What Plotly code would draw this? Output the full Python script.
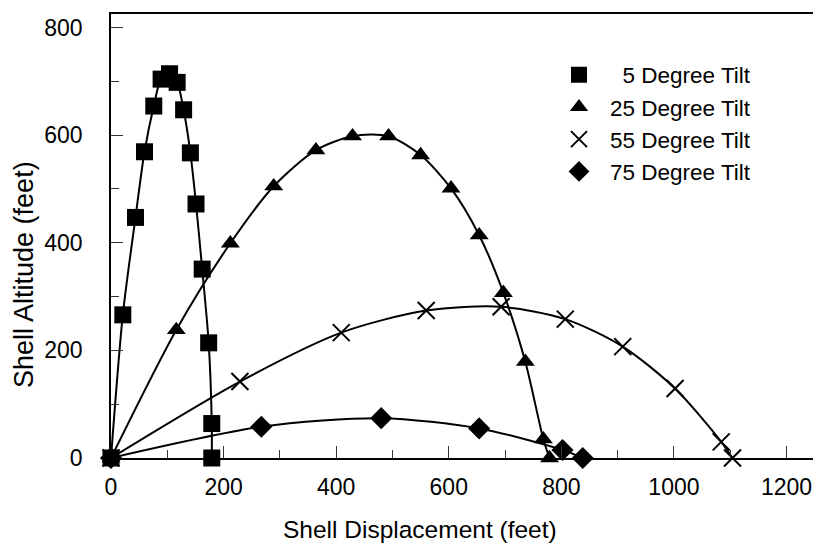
import plotly.graph_objects as go

# Shell trajectories: horizontal displacement (ft) and altitude (ft) per launch tilt
tilt5_x = [0, 21, 43.5, 59.5, 76, 89, 104, 117.5, 129, 141, 151, 162, 173.5, 179, 179]
tilt5_y = [0, 266, 447, 569, 654, 704, 714, 698, 647, 567, 472, 351, 214, 64, 0]

tilt25_x = [0, 116, 212, 289, 364, 429, 493, 550, 604, 654, 697, 736, 768, 779]
tilt25_y = [0, 238, 399, 505, 572, 598, 598, 563, 501, 414, 307, 179, 35, 0]

tilt55_x = [0, 229, 409, 560, 693, 807, 909, 1002, 1084, 1104]
tilt55_y = [0, 142, 233, 274, 281, 258, 207, 129, 30, 0]

tilt75_x = [0, 267, 480, 654, 802, 838]
tilt75_y = [0, 58, 74, 55, 15, 0]

series_names = ["\u00a0\u00a05 Degree Tilt", "25 Degree Tilt", "55 Degree Tilt", "75 Degree Tilt"]

FONT = "Liberation Sans, Arial, sans-serif"

W, H = 813, 545
ML, MR, MT, MB = 111, 0, 14, 87
X_MAX, Y_MAX = 1247, 825
PW, PH = W - ML - MR, H - MT - MB


def px_x(p):
    return (p - ML) / PW


def px_y(p):
    return (H - MB - p) / PH


fig = go.Figure()

markers = [
    dict(symbol="square", size=17, color="black"),
    dict(symbol="triangle-up", size=16.5, color="black"),
    dict(symbol="x-thin-open", size=17, color="black", line=dict(color="black", width=2)),
    dict(symbol="diamond", size=17, color="black"),
]
data = [(tilt5_x, tilt5_y), (tilt25_x, tilt25_y), (tilt55_x, tilt55_y), (tilt75_x, tilt75_y)]

# smooth trajectory curves
for xs, ys in data:
    fig.add_trace(go.Scatter(
        x=xs, y=ys, mode="lines", showlegend=False, hoverinfo="skip",
        line=dict(color="black", width=2, shape="spline", smoothing=0.8),
        cliponaxis=False,
    ))

# sample points (these carry the legend entries)
for (xs, ys), mk, name in zip(data, markers, series_names):
    fig.add_trace(go.Scatter(
        x=xs, y=ys, name=name, mode="markers", marker=mk, cliponaxis=False,
    ))

axis_common = dict(
    showgrid=False, zeroline=False,
    showline=True, linecolor="black", linewidth=1.5,
    ticks="inside", ticklen=12, tickwidth=1.2, tickcolor="#333",
    tickfont=dict(family=FONT, size=23, color="black"),
    ticklabeloverflow="allow",
)

fig.update_layout(
    width=W, height=H,
    margin=dict(l=ML, r=MR, t=MT, b=MB, pad=0),
    paper_bgcolor="white", plot_bgcolor="white",
    font=dict(family=FONT, size=23, color="black"),
    showlegend=True,
    legend=dict(
        x=px_x(548), y=px_y(53.5),
        xanchor="left", yanchor="top",
        bgcolor="rgba(0,0,0,0)", borderwidth=0,
        font=dict(family=FONT, size=22.5, color="black"),
        itemwidth=52,
    ),
    xaxis=dict(
        range=[0, X_MAX], mirror=True,
        tickmode="array", tickvals=[0, 200, 400, 600, 800, 1000, 1200],
        minor=dict(dtick=100, tick0=0, ticks="inside", ticklen=8, tickwidth=1.2, tickcolor="#333"),
        ticklabelstandoff=8,
        **axis_common,
    ),
    yaxis=dict(
        range=[0, Y_MAX],
        tickmode="array", tickvals=[0, 200, 400, 600, 800],
        minor=dict(dtick=100, tick0=0, ticks="inside", ticklen=8, tickwidth=1.2, tickcolor="#333"),
        ticklabelstandoff=22,
        **axis_common,
    ),
    annotations=[
        dict(text="Shell Displacement (feet)", xref="paper", yref="paper",
             x=px_x(420), y=px_y(529),
             xanchor="center", yanchor="middle", showarrow=False,
             font=dict(family=FONT, size=24.5, color="black")),
        dict(text="Shell Altitude (feet)", xref="paper", yref="paper",
             x=px_x(24), y=px_y(275),
             xanchor="center", yanchor="middle", showarrow=False, textangle=-90,
             font=dict(family=FONT, size=27, color="black")),
    ],
)

fig.write_html("out.html")
